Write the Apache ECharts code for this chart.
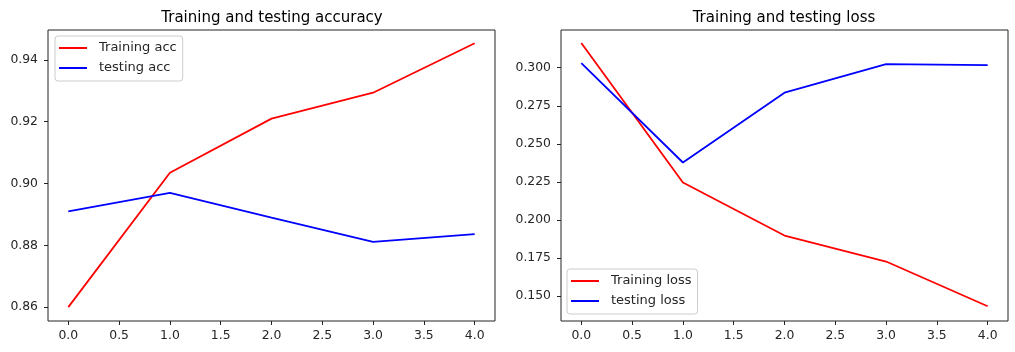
<!DOCTYPE html>
<html>
<head>
<meta charset="utf-8">
<script src="https://cdn.jsdelivr.net/npm/echarts@6/dist/echarts.min.js"></script>
<style>
  html, body { margin: 0; padding: 0; background: #fff; }
  #chart { width: 1015px; height: 352px; }
</style>
</head>
<body>
<div id="chart"></div>
<script>
// data
var epochs = [0, 1, 2, 3, 4];
var trainAcc = [0.8600, 0.9035, 0.9210, 0.9294, 0.9454];
var testAcc = [0.8910, 0.8970, 0.8890, 0.8811, 0.8836];
var trainLoss = [0.3162, 0.2245, 0.1897, 0.1726, 0.1432];
var testLoss = [0.3030, 0.2377, 0.2836, 0.3024, 0.3017];

var xTicks = [0, 0.5, 1, 1.5, 2, 2.5, 3, 3.5, 4];
var accTicks = [0.86, 0.88, 0.90, 0.92, 0.94];
var lossTicks = [0.150, 0.175, 0.200, 0.225, 0.250, 0.275, 0.300];

function pairs(ys) {
  return epochs.map(function (x, i) { return [x, ys[i]]; });
}

var font = 'DejaVu Sans';
var txt = '#262626';

function xAxisOf(idx) {
  return {
    type: 'value', gridIndex: idx, min: -0.2, max: 4.2,
    splitLine: { show: false },
    axisLine: { show: false, onZero: false },
    axisTick: { show: true, inside: false, length: 4, customValues: xTicks, lineStyle: { color: '#222' } },
    axisLabel: {
      customValues: xTicks, margin: 9, fontFamily: font, fontSize: 12.4, color: txt,
      formatter: function (v) { return v.toFixed(1); }
    }
  };
}

function yAxisOf(idx, min, max, ticks, digits) {
  return {
    type: 'value', gridIndex: idx, min: min, max: max,
    splitLine: { show: false },
    axisLine: { show: false, onZero: false },
    axisTick: { show: true, inside: false, length: 4, customValues: ticks, lineStyle: { color: '#222' } },
    axisLabel: {
      customValues: ticks, margin: 10, fontFamily: font, fontSize: 12.4, color: txt,
      formatter: function (v) { return v.toFixed(digits); }
    }
  };
}

function lineSeries(name, ys, color, idx) {
  return {
    name: name, type: 'line', xAxisIndex: idx, yAxisIndex: idx,
    data: pairs(ys), symbol: 'none', silent: true, animation: false,
    lineStyle: { color: color, width: 1.8 }, itemStyle: { color: color }
  };
}

var legendBase = {
  orient: 'vertical', icon: 'rect', itemWidth: 28, itemHeight: 2, itemGap: 6,
  padding: [5, 6, 6, 4], borderColor: '#cccccc', borderWidth: 1, borderRadius: 3,
  backgroundColor: 'rgba(255,255,255,0.8)',
  textStyle: { fontFamily: font, fontSize: 13, color: txt, lineHeight: 14, padding: [0, 0, 0, 7] },
  selectedMode: false
};

var titleStyle = { fontFamily: font, fontSize: 15, fontWeight: 'normal', color: '#000' };

var chart = echarts.init(document.getElementById('chart'));
chart.setOption({
  animation: false,
  backgroundColor: '#fff',
  title: [
    { text: 'Training and testing accuracy', left: 272, top: 11, padding: 0, textAlign: 'center', textStyle: titleStyle },
    { text: 'Training and testing loss', left: 784, top: 11, padding: 0, textAlign: 'center', textStyle: titleStyle }
  ],
  legend: [
    Object.assign({}, legendBase, { data: ['Training acc', 'testing acc'], left: 55, top: 36 }),
    Object.assign({}, legendBase, { data: ['Training loss', 'testing loss'], left: 567, top: 269 })
  ],
  grid: [
    { left: 48, top: 30, width: 447, height: 291, show: true, borderColor: '#222', borderWidth: 1 },
    { left: 561, top: 30, width: 447, height: 291, show: true, borderColor: '#222', borderWidth: 1 }
  ],
  xAxis: [xAxisOf(0), xAxisOf(1)],
  yAxis: [
    yAxisOf(0, 0.8555, 0.9497, accTicks, 2),
    yAxisOf(1, 0.1335, 0.3248, lossTicks, 3)
  ],
  series: [
    lineSeries('Training acc', trainAcc, '#ff0000', 0),
    lineSeries('testing acc', testAcc, '#0000ff', 0),
    lineSeries('Training loss', trainLoss, '#ff0000', 1),
    lineSeries('testing loss', testLoss, '#0000ff', 1)
  ]
});
</script>
</body>
</html>
